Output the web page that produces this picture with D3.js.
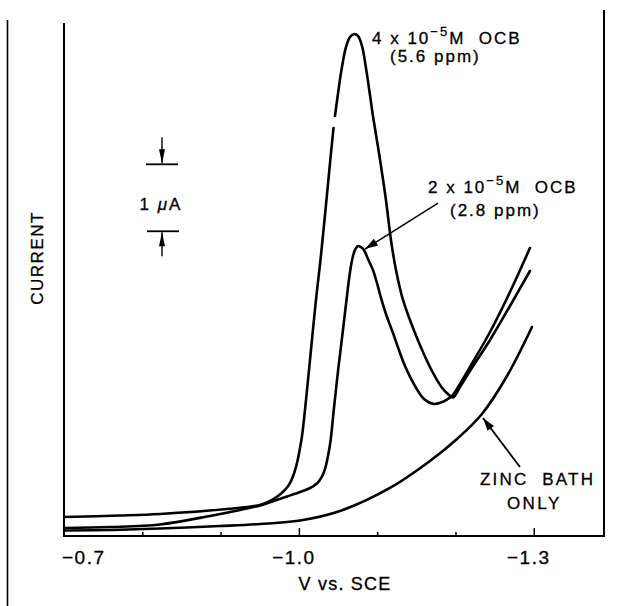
<!DOCTYPE html>
<html><head><meta charset="utf-8">
<script src="https://cdn.jsdelivr.net/npm/d3@7"></script>
<style>
body{margin:0;background:#fff}
svg{display:block}
text{font-family:"Liberation Sans",Arial,Helvetica,sans-serif;fill:#000;stroke:#000;stroke-width:0.3px;white-space:pre}
</style>
</head><body>
<svg id="chart" width="629" height="606"></svg>
<script>
// Polarograms: current (µA) vs. potential (V vs. SCE)
const ocb4 = [[-0.700,0.284],[-0.7715,0.306],[-0.8226,0.329],[-0.9082,0.403],[-0.9503,0.463],[-0.9631,0.523],[-0.9733,0.597],[-0.9822,0.687],[-0.9893,0.806],[-0.9944,0.956],[-0.9982,1.120],[-1.0014,1.314],[-1.0040,1.493],[-1.0091,2.031],[-1.0167,2.927],[-1.0218,3.524],[-1.0276,4.121],[-1.0352,5.017],[-1.0410,5.719],[-1.0442,6.092],null,[-1.0461,6.272],[-1.0506,6.660],[-1.0544,6.958],[-1.0602,7.302],[-1.0653,7.451],[-1.0704,7.496],[-1.0755,7.466],[-1.0806,7.317],[-1.0857,6.988],[-1.0908,6.585],[-1.0946,6.272],[-1.1023,5.719],[-1.1112,5.017],[-1.1176,4.420],[-1.1240,3.972],[-1.1330,3.524],[-1.1483,3.031],[-1.1674,2.524],[-1.1821,2.225],[-1.1904,2.120],[-1.1968,2.068],[-1.2057,2.225],[-1.2185,2.464],[-1.2441,2.927],[-1.2696,3.434],[-1.2951,3.957]];
const ocb2 = [[-0.700,0.119],[-0.7587,0.134],[-0.8226,0.172],[-0.8865,0.299],[-0.9248,0.388],[-0.9529,0.463],[-0.9695,0.530],[-0.9848,0.590],[-1.0014,0.657],[-1.0142,0.717],[-1.0231,0.784],[-1.0289,0.874],[-1.0333,1.000],[-1.0372,1.195],[-1.0404,1.419],[-1.0448,1.911],[-1.0506,2.524],[-1.0563,3.076],[-1.0608,3.524],[-1.0653,3.942],[-1.0691,4.181],[-1.0723,4.286],[-1.0755,4.330],[-1.0793,4.315],[-1.0831,4.271],[-1.0883,4.136],[-1.0946,3.972],[-1.0997,3.778],[-1.1049,3.554],[-1.1112,3.315],[-1.1202,3.031],[-1.1278,2.777],[-1.1355,2.538],[-1.1483,2.240],[-1.1598,2.046],[-1.1725,1.971],[-1.1815,1.993],[-1.1891,2.038],[-1.1955,2.090],[-1.2057,2.270],[-1.2185,2.524],[-1.2441,3.046],[-1.2696,3.643],[-1.2951,4.300]];
const zincBath = [[-0.700,0.082],[-0.7587,0.090],[-0.8226,0.112],[-0.8992,0.149],[-0.9503,0.179],[-1.0014,0.231],[-1.0525,0.373],[-1.1163,0.717],[-1.1674,1.120],[-1.2019,1.448],[-1.2338,1.822],[-1.2658,2.389],[-1.2977,3.121]];

const majorTicks = [-1.0, -1.3];
const minorTicks = [-0.8, -0.9, -1.1, -1.2];
const tickLabels = ["\u22120.7", "\u22121.0", "\u22121.3"];
const tickLabelValues = [-0.7, -1.0, -1.3];
const scaleBar = [4.55, 5.55];          // 1 µA reference
const peakArrow = [[-1.1777, 4.972], [-1.0844, 4.285]];
const zincArrow = [[-1.2824, 1.030], [-1.2351, 1.762]];

const svg = d3.select("#chart");
svg.append("rect").attr("width", 629).attr("height", 606).attr("fill", "#fff");

const x = d3.scaleLinear().domain([-0.7, -1.3897]).range([64, 604]);
const y = d3.scaleLinear().domain([0, 7.66]).range([536, 23]);

// frame
const frame = svg.append("g").attr("stroke", "#000").attr("fill", "none");
frame.append("line").attr("x1", 7.5).attr("x2", 7.5).attr("y1", 20).attr("y2", 606).attr("stroke-width", 1.6);
frame.append("line").attr("x1", 64).attr("x2", 64).attr("y1", y.range()[1]).attr("y2", 537).attr("stroke-width", 2);
frame.append("line").attr("x1", 604).attr("x2", 604).attr("y1", 10).attr("y2", 537).attr("stroke-width", 2);
frame.append("line").attr("x1", 63).attr("x2", 605).attr("y1", 536).attr("y2", 536).attr("stroke-width", 2.2);

// ticks (pointing inward)
const axisG = svg.append("g").attr("transform", "translate(0,536)");
axisG.append("g").call(d3.axisBottom(x).tickValues(minorTicks).tickSizeInner(-4).tickSizeOuter(0).tickFormat(""))
  .call(g => g.select(".domain").remove())
  .call(g => g.selectAll("line").attr("stroke-width", 1.5));
axisG.append("g").call(d3.axisBottom(x).tickValues(majorTicks).tickSizeInner(-8).tickSizeOuter(0).tickFormat(""))
  .call(g => g.select(".domain").remove())
  .call(g => g.selectAll("line").attr("stroke-width", 1.5));

svg.append("g").selectAll("text").data(tickLabelValues).join("text")
  .attr("x", (d, i) => i === 0 ? x(d) - 2 : x(d) - 5)
  .attr("y", 564)
  .attr("text-anchor", (d, i) => i === 0 ? "start" : "middle")
  .attr("font-size", 19).attr("letter-spacing", 1.5)
  .text((d, i) => tickLabels[i]);

svg.append("text").attr("x", 345).attr("y", 590).attr("text-anchor", "middle")
  .attr("font-size", 18).attr("letter-spacing", 1.2).text("V vs. SCE");

svg.append("text").attr("transform", "translate(43,258) rotate(-90)").attr("text-anchor", "middle")
  .attr("font-size", 17).attr("letter-spacing", 1.5).text("CURRENT");

// curves
const line = d3.line().defined(d => d !== null).x(d => x(d[0])).y(d => y(d[1])).curve(d3.curveCatmullRom.alpha(0.5));
svg.append("g").attr("fill", "none").attr("stroke", "#000").attr("stroke-width", 2.6)
  .attr("stroke-linejoin", "round").attr("stroke-linecap", "round")
  .selectAll("path").data([zincBath, ocb2, ocb4]).join("path").attr("d", line);

// arrows
function arrow(g, x1, y1, x2, y2, len, half, w) {
  g.append("line").attr("x1", x1).attr("y1", y1).attr("x2", x2).attr("y2", y2)
    .attr("stroke", "#000").attr("stroke-width", w);
  const a = Math.atan2(y2 - y1, x2 - x1);
  const bx = x2 - len * Math.cos(a), by = y2 - len * Math.sin(a);
  const px = -Math.sin(a) * half, py = Math.cos(a) * half;
  g.append("path").attr("d", `M${x2},${y2}L${bx + px},${by + py}L${bx - px},${by - py}Z`).attr("fill", "#000");
}
const ann = svg.append("g");
arrow(ann, x(peakArrow[0][0]), y(peakArrow[0][1]), x(peakArrow[1][0]), y(peakArrow[1][1]), 13, 4, 1.5);
arrow(ann, x(zincArrow[0][0]), y(zincArrow[0][1]), x(zincArrow[1][0]), y(zincArrow[1][1]), 13, 4, 1.8);

// scale bar
const sb = svg.append("g");
const yTop = y(scaleBar[1]), yBot = y(scaleBar[0]);
sb.append("line").attr("x1", 146).attr("x2", 178).attr("y1", yTop).attr("y2", yTop).attr("stroke", "#000").attr("stroke-width", 1.8);
sb.append("line").attr("x1", 147).attr("x2", 179).attr("y1", yBot).attr("y2", yBot).attr("stroke", "#000").attr("stroke-width", 1.8);
arrow(sb, 162, yTop - 27, 162, yTop - 1, 14, 3, 1.4);
arrow(sb, 162, yBot + 25, 162, yBot + 1, 14, 3, 1.4);
const ua = sb.append("text").attr("x", 161).attr("y", 210).attr("text-anchor", "middle")
  .attr("font-size", 17).attr("letter-spacing", 2);
ua.append("tspan").text("1 ");
ua.append("tspan").attr("font-style", "italic").text("\u03BC");
ua.append("tspan").text("A");

// labels
function conc(xp, yp, lead) {
  const t = svg.append("text").attr("x", xp).attr("y", yp).attr("font-size", 17).attr("letter-spacing", 2);
  t.append("tspan").text(lead + " x 10");
  t.append("tspan").attr("dy", -8).attr("font-size", 13).text("\u22125");
  t.append("tspan").attr("dy", 8).text("M  OCB");
}
conc(372, 44, "4");
svg.append("text").attr("x", 390).attr("y", 62).attr("font-size", 17).attr("letter-spacing", 2).text("(5.6 ppm)");
conc(428, 193, "2");
svg.append("text").attr("x", 450).attr("y", 216).attr("font-size", 17).attr("letter-spacing", 2).text("(2.8 ppm)");
svg.append("text").attr("x", 480).attr("y", 485).attr("font-size", 17).attr("letter-spacing", 2.2).text("ZINC  BATH");
svg.append("text").attr("x", 507).attr("y", 509).attr("font-size", 17).attr("letter-spacing", 2.4).text("ONLY");
</script>
</body></html>
